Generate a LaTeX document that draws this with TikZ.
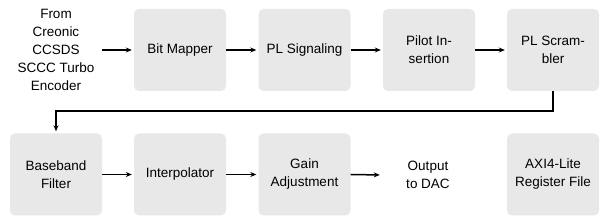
\documentclass[tikz,border=0pt]{standalone}
\usepackage{fontspec}
\setmainfont{Liberation Sans}
\usetikzlibrary{arrows.meta}
\begin{document}
\begin{tikzpicture}[x=1pt,y=-1pt,
  blk/.style={minimum width=92pt,minimum height=82pt,rounded corners=5pt,fill=black!9,draw=none,align=center,inner sep=0pt,font=\fontsize{13.5}{18}\selectfont},
  txt/.style={minimum width=92pt,align=center,inner sep=0pt,font=\fontsize{13.5}{18}\selectfont},
  arr/.style={line width=1.5pt,-{Stealth[length=6pt,width=5pt]},shorten >=2pt}]
\useasboundingbox (0,0) rectangle (616,221);
\node[txt] (src) at (56,50) {From\\Creonic\\CCSDS\\SCCC Turbo\\Encoder};
\node[blk] (bm) at (180,50) {Bit Mapper};
\node[blk] (pls) at (304.5,50) {PL Signaling};
\node[blk] (pi) at (429,50) {Pilot In-\\sertion};
\node[blk] (scr) at (553,50) {PL Scram-\\bler};
\node[blk] (bb) at (56,174.5) {Baseband\\Filter};
\node[blk] (ip) at (180,174.5) {Interpolator};
\node[blk] (ga) at (304.5,174.5) {Gain\\Adjustment};
\node[txt] (out) at (428,175) {Output\\to DAC};
\node[blk] (axi) at (553,174.5) {AXI4-Lite\\Register File};
\coordinate (c1) at (553,111);
\coordinate (c2) at (56,111);
\draw[arr] (src.east) -- (bm.west);
\draw[arr] (bm) -- (pls);
\draw[arr] (pls) -- (pi);
\draw[arr] (pi) -- (scr);
\draw[arr] (scr.south) -- (c1) -- (c2) -- (bb.north);
\draw[arr] (bb) -- (ip);
\draw[arr] (ip) -- (ga);
\draw[arr] (ga.east) -- (out.west);
\end{tikzpicture}
\end{document}
